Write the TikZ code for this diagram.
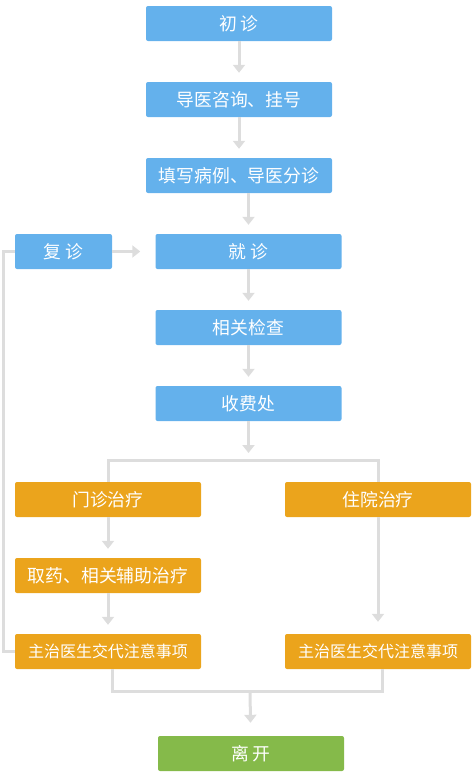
\documentclass[tikz,border=0pt]{standalone}
\usepackage{fontspec}
\newfontfamily\cjk{Noto Sans CJK SC}
\usetikzlibrary{arrows.meta,positioning,calc}
\definecolor{FlowBlue}{HTML}{64B1EC}
\definecolor{FlowAmber}{HTML}{EBA41C}
\definecolor{FlowGreen}{HTML}{85BA4A}
\definecolor{FlowLine}{HTML}{DDDDDD}

\begin{document}
\begin{tikzpicture}[x=1pt,y=-1pt,
  box/.style={rounded corners=2pt,minimum width=186pt,minimum height=35pt,inner sep=0pt,text=white,font=\cjk\fontsize{17.8}{20}\selectfont},
  step-blue/.style={box,fill=FlowBlue},
  step-amber/.style={box,fill=FlowAmber},
  step-green/.style={box,fill=FlowGreen},
  note/.style={font=\cjk\fontsize{16}{18}\selectfont},
  link/.style={draw=FlowLine,line width=3pt},
  flow/.style={link,-{Triangle[width=12pt,length=8pt]},shorten >=9pt},
]
\useasboundingbox (0,0) rectangle (475,780);
% intake
\node[step-blue] (a) at (239,23.5) {初 诊};
\node[step-blue] (b) at (239,99.5) {导医咨询、挂号};
\node[step-blue] (c) at (239,175.5) {填写病例、导医分诊};
\node[step-blue,minimum width=97pt] (e) at (63.5,251.5) {复 诊};
\node[step-blue] (d) at (248.5,251.5) {就 诊};
\node[step-blue] (f) at (248.5,327.5) {相关检查};
\node[step-blue] (p) at (248.5,403.5) {收费处};
% treatment
\node[step-amber] (g) at (108,499.5) {门诊治疗};
\node[step-amber] (h) at (378,499.5) {住院治疗};
\node[step-amber] (i) at (108,575.5) {取药、相关辅助治疗};
\node[step-amber,note] (j) at (108,651.5) {主治医生交代注意事项};
\node[step-amber,note] (k) at (378,651.5) {主治医生交代注意事项};
\node[step-green] (l) at (251,753.5) {离 开};
\coordinate (split) at (248.5,460);
\coordinate (merge) at (250,691);

\draw[flow] (a) -- (b);
\draw[flow] (b) -- (a |- c.north);
\draw[flow] (d |- c.south) -- (d);
\draw[flow,shorten >=15pt] (e) -- (d);
\draw[flow] (d) -- (f);
\draw[flow] (f) -- (p);
\draw[flow,shorten >=7pt] (p) -- (split);
\draw[link] (g.north) -- (g |- split) -- (h |- split) -- (h.north);
\draw[flow] (g) -- (i);
\draw[flow] (i) -- (j);
\draw[flow,shorten >=12pt] (h) -- (k);
\draw[link] (j.west) -- ++(-11,0) |- (e.west);
\draw[link] ([xshift=4pt]j.south) -- ([xshift=4pt]j.south |- merge) -- ([xshift=4pt]k.south |- merge) -- ([xshift=4pt]k.south);
\draw[flow,shorten >=13pt] (merge) -- (l);
\end{tikzpicture}
\end{document}
